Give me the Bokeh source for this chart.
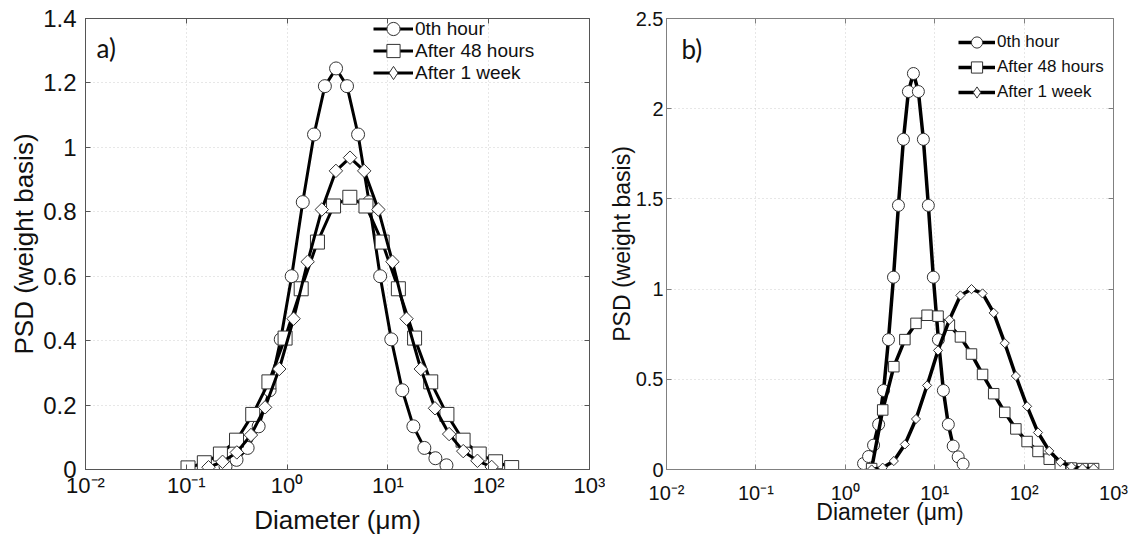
import numpy as np
from bokeh.plotting import figure
from bokeh.models import (Range1d, FixedTicker, CustomJSTickFormatter, LinearAxis, LogAxis,
                          Legend, LegendItem, Label)
from bokeh.layouts import row
from bokeh.embed import file_html
from bokeh.resources import INLINE

# ---------------- data ----------------
series_names = ["0th hour", "After 48 hours", "After 1 week"]

# panel a)
a_x_0h = [0.245, 0.315, 0.406, 0.522, 0.671, 0.865, 1.11, 1.43, 1.85, 2.37, 3.06,
          3.93, 5.06, 6.51, 8.38, 10.8, 13.9, 17.9, 23.0, 29.6, 38.1]
a_y_0h = [0.009, 0.03, 0.067, 0.134, 0.246, 0.404, 0.60, 0.83, 1.04, 1.19, 1.245,
          1.19, 1.04, 0.83, 0.60, 0.404, 0.246, 0.134, 0.067, 0.035, 0.013]
a_x_48h = [0.104, 0.151, 0.218, 0.315, 0.456, 0.660, 0.955, 1.38, 2.00, 2.89, 4.19,
           6.06, 8.77, 12.7, 18.4, 26.6, 38.5, 55.7, 80.5, 117, 169]
a_y_48h = [0.005, 0.021, 0.048, 0.091, 0.171, 0.272, 0.408, 0.561, 0.706, 0.818, 0.845,
           0.818, 0.706, 0.561, 0.408, 0.272, 0.171, 0.091, 0.048, 0.024, 0.006]
a_x_1w = [0.166, 0.229, 0.317, 0.438, 0.605, 0.836, 1.16, 1.60, 2.21, 3.05, 4.21,
          5.82, 8.04, 11.1, 15.3, 21.2, 29.3, 40.5, 55.9, 77.3, 107]
a_y_1w = [0.007, 0.024, 0.053, 0.107, 0.193, 0.312, 0.468, 0.645, 0.807, 0.927, 0.968,
          0.927, 0.807, 0.645, 0.468, 0.312, 0.19, 0.11, 0.057, 0.027, 0.008]

# panel b)
b_x_0h = [1.60, 1.82, 2.07, 2.36, 2.68, 3.04, 3.46, 3.93, 4.47, 5.08, 5.78,
          6.57, 7.47, 8.49, 9.65, 11.0, 12.5, 14.2, 16.1, 18.3, 20.8]
b_y_0h = [0.033, 0.072, 0.135, 0.25, 0.438, 0.72, 1.066, 1.464, 1.83, 2.095, 2.195,
          2.095, 1.83, 1.464, 1.066, 0.72, 0.438, 0.25, 0.13, 0.07, 0.03]
b_x_48h = [1.97, 2.62, 3.49, 4.64, 6.18, 8.22, 10.9, 14.6, 19.4, 25.8, 34.3,
           45.7, 60.8, 80.9, 108, 143, 191, 254, 338, 450, 599]
b_y_48h = [0.005, 0.33, 0.57, 0.72, 0.81, 0.855, 0.85, 0.80, 0.735, 0.64, 0.527,
           0.42, 0.317, 0.225, 0.155, 0.10, 0.057, 0.02, 0.008, 0.005, 0.005]
b_x_1w = [1.97, 2.62, 3.49, 4.64, 6.18, 8.22, 10.9, 14.6, 19.4, 25.8, 34.3,
          45.7, 60.8, 80.9, 108, 143, 191, 254, 338, 450, 599]
b_y_1w = [0.0, 0.01, 0.047, 0.139, 0.28, 0.466, 0.66, 0.83, 0.965, 1.0, 0.976,
          0.868, 0.70, 0.518, 0.35, 0.205, 0.103, 0.042, 0.016, 0.006, 0.006]

# ticks
x_ticks = [0.01, 0.1, 1, 10, 100, 1000]
x_tick_labels = ["10\u207b\u00b2", "10\u207b\u00b9", "10\u2070", "10\u00b9", "10\u00b2", "10\u00b3"]
y_ticks_a = [0, 0.2, 0.4, 0.6, 0.8, 1.0, 1.2, 1.4]
y_tick_labels_a = ["0", "0.2", "0.4", "0.6", "0.8", "1", "1.2", "1.4"]
y_ticks_b = [0, 0.5, 1.0, 1.5, 2.0, 2.5]
y_tick_labels_b = ["0", "0.5", "1", "1.5", "2", "2.5"]

x_label = "Diameter (\u03bcm)"
y_label = "PSD (weight basis)"

FONT = "Liberation Sans"

LOG_CODE = """
const lt = Math.log10(tick);
for (let i = 0; i < tk.length; i++) {
  if (Math.abs(Math.log10(tk[i]) - lt) < 1e-6) return lb[i];
}
return "";
"""
LIN_CODE = """
for (let i = 0; i < tk.length; i++) {
  if (Math.abs(tk[i] - tick) < 1e-6) return lb[i];
}
return "";
"""


def make_panel(W, H, y_max, y_ticks, y_labels, mb, frame_color, fs, series, sizes,
               lw, lg, tag, tag_pos):
    p = figure(width=W, height=H, x_axis_type="log",
               x_range=Range1d(0.01, 1000), y_range=Range1d(0, y_max),
               output_backend="svg", toolbar_location=None,
               min_border_left=mb[0], min_border_right=mb[1],
               min_border_top=mb[2], min_border_bottom=mb[3])
    p.title.visible = False
    p.title.text_font_size = "0px"
    p.title.standoff = 0
    p.background_fill_color = "white"
    p.border_fill_color = "white"
    p.outline_line_color = frame_color
    p.outline_line_width = 1

    xt = FixedTicker(ticks=x_ticks)
    yt = FixedTicker(ticks=y_ticks)
    xa = p.xaxis[0]
    ya = p.yaxis[0]
    xa.ticker = xt
    ya.ticker = yt
    xa.formatter = CustomJSTickFormatter(args=dict(tk=x_ticks, lb=x_tick_labels), code=LOG_CODE)
    ya.formatter = CustomJSTickFormatter(args=dict(tk=y_ticks, lb=y_labels), code=LIN_CODE)
    p.xgrid[0].ticker = xt
    p.ygrid[0].ticker = yt
    for ax in (xa, ya):
        ax.axis_line_color = frame_color
        ax.major_tick_line_color = frame_color
        ax.major_tick_in = 5
        ax.major_tick_out = 0
        ax.minor_tick_line_color = None
        ax.major_label_text_font = FONT
        ax.major_label_text_color = "#111111"
        ax.axis_label_text_font = FONT
        ax.axis_label_text_font_style = "normal"
        ax.axis_label_text_color = "#111111"
    xa.axis_label = x_label
    ya.axis_label = y_label
    xa.major_label_text_font_size = fs["xt"]
    ya.major_label_text_font_size = fs["yt"]
    xa.axis_label_text_font_size = fs["xl"]
    ya.axis_label_text_font_size = fs["yl"]
    xa.major_label_standoff = fs["xs1"]
    xa.axis_label_standoff = fs["xs2"]
    ya.major_label_standoff = fs["ys1"]
    ya.axis_label_standoff = fs["ys2"]

    for g in (p.xgrid[0], p.ygrid[0]):
        g.grid_line_color = "#cfcfcf"
        g.grid_line_dash = "1 3"
        g.grid_line_width = 1

    # mirrored ticks (box on)
    top = LogAxis(ticker=xt, formatter=CustomJSTickFormatter(code="return '';"),
                  major_tick_in=5, major_tick_out=0,
                  minor_tick_line_color=None, axis_line_color=None,
                  major_tick_line_color=frame_color, major_label_standoff=0,
                  major_label_text_font_size="1px")
    right = LinearAxis(ticker=yt, formatter=CustomJSTickFormatter(code="return '';"),
                       major_tick_in=5, major_tick_out=0,
                       minor_tick_line_color=None, axis_line_color=None,
                       major_tick_line_color=frame_color, major_label_standoff=0,
                       major_label_text_font_size="1px")
    p.add_layout(top, "above")
    p.add_layout(right, "right")

    for k, ((name, xs, ys, marker, angle), size) in enumerate(zip(series, sizes)):
        ln = p.line(xs, ys, line_color="black", line_width=lw)
        sc = p.scatter(xs, ys, marker=marker, angle=angle, size=size,
                       fill_color="white", line_color="#333333", line_width=1)
        if angle != 0.0:
            # legend-only glyph (legend markers are drawn without rotation)
            sc_leg = p.scatter(xs, ys, marker="diamond", size=size,
                               fill_color="white", line_color="#333333", line_width=1,
                               visible=False)
            rends = [ln, sc_leg]
        else:
            rends = [ln, sc]
        leg = Legend(items=[LegendItem(label=name, renderers=rends)],
                     location=(lg["x"], lg["y"][k]), glyph_width=lg["gw"],
                     glyph_height=lg["gh"], label_height=10, spacing=0,
                     padding=0, margin=0, border_line_color=None, background_fill_alpha=0,
                     label_text_font=FONT, label_text_font_size=lg["fs"],
                     label_standoff=2, label_text_color="#111111")
        p.add_layout(leg)

    p.add_layout(Label(x=tag_pos[0], y=tag_pos[1], x_units="screen", y_units="screen",
                       text=tag, text_font="Lato", text_font_size="26px",
                       text_baseline="middle", text_align="left", text_color="#111111"))
    return p


H = 548
WA = 605
WB = 1132 - WA

series_a = [(series_names[0], a_x_0h, a_y_0h, "circle", 0.0),
            (series_names[1], a_x_48h, a_y_48h, "square", 0.0),
            (series_names[2], a_x_1w, a_y_1w, "square", np.pi / 4)]
series_b = [(series_names[0], b_x_0h, b_y_0h, "circle", 0.0),
            (series_names[1], b_x_48h, b_y_48h, "square", 0.0),
            (series_names[2], b_x_1w, b_y_1w, "square", np.pi / 4)]

pa = make_panel(WA, H, 1.4, y_ticks_a, y_tick_labels_a, (85, 16, 14, 76), "#555555",
                dict(xt="22px", yt="24px", xl="26px", yl="26px", xs1=3, xs2=4, ys1=9, ys2=1),
                series_a, [13, 14, 9.5], 3,
                dict(x=288, y=[424, 402, 380], gw=40, gh=33, fs="19px"),
                "a)", (11, 422))
pb = make_panel(WB, H, 2.5, y_ticks_b, y_tick_labels_b, (59, 19, 18, 79), "#808080",
                dict(xt="20px", yt="20px", xl="23px", yl="23px", xs1=12, xs2=-8, ys1=3, ys2=-2),
                series_b, [12, 10.5, 6.5], 3.5,
                dict(x=292, y=[413, 388, 363], gw=37, gh=28, fs="17px"),
                "b)", (15, 421))

layout = row(pa, pb)
open("out.html", "w").write(file_html(layout, INLINE))
